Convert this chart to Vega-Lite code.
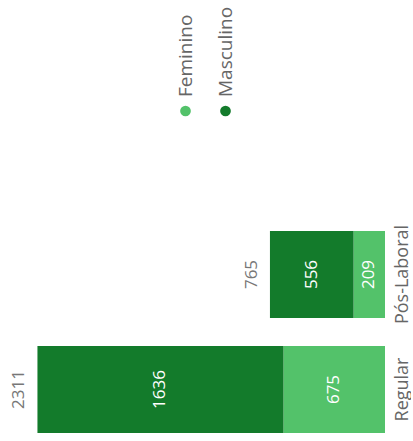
{
  "$schema": "https://vega.github.io/schema/vega-lite/v6.json",
  "padding": 0,
  "spacing": 0,
  "center": true,
  "background": "white",
  "data": {
    "values": [
      {"curso": "Regular", "sexo": "Feminino", "value": 675},
      {"curso": "Regular", "sexo": "Masculino", "value": 1636},
      {"curso": "Pós-Laboral", "sexo": "Feminino", "value": 209},
      {"curso": "Pós-Laboral", "sexo": "Masculino", "value": 556}
    ]
  },
  "resolve": {"scale": {"x": "independent", "y": "independent"}},
  "vconcat": [
    {
      "width": 120,
      "height": 222,
      "data": {"values": [{"sexo": "Feminino"}, {"sexo": "Masculino"}]},
      "layer": [
        {
          "mark": {"type": "circle", "size": 115, "opacity": 1},
          "encoding": {
            "x": {"field": "sexo", "type": "nominal", "scale": {"type": "point", "padding": 1}, "axis": null},
            "color": {"field": "sexo", "type": "nominal", "legend": null}
          }
        },
        {
          "mark": {"type": "text", "angle": 270, "align": "left", "baseline": "middle", "dx": 14, "font": "Open Sans", "fontSize": 19, "color": "#666666"},
          "encoding": {
            "x": {"field": "sexo", "type": "nominal", "scale": {"type": "point", "padding": 1}, "axis": null},
            "text": {"field": "sexo", "type": "nominal"}
          }
        }
      ]
    },
    {
      "width": 385,
      "height": 220,
      "encoding": {
        "y": {
          "field": "curso",
          "type": "nominal",
          "sort": ["Pós-Laboral", "Regular"],
          "scale": {"paddingInner": 0.243, "paddingOuter": 0.078},
          "axis": {
            "orient": "right",
            "title": null,
            "domain": false,
            "ticks": false,
            "labelAngle": 270,
            "labelAlign": "center",
            "labelBaseline": "top",
            "labelPadding": 8,
            "labelFont": "Open Sans",
            "labelFontSize": 18,
            "labelColor": "#666666"
          }
        }
      },
      "layer": [
        {
          "mark": {"type": "bar"},
          "encoding": {
            "x": {"field": "value", "type": "quantitative", "stack": "zero", "scale": {"domain": [0, 2560], "reverse": true, "nice": false}, "axis": null},
            "color": {
              "field": "sexo",
              "type": "nominal",
              "scale": {"domain": ["Feminino", "Masculino"], "range": ["#53C26A", "#137B2B"]},
              "legend": null
            }
          }
        },
        {
          "mark": {"type": "text", "angle": 270, "align": "center", "baseline": "middle", "font": "Open Sans", "fontSize": 17, "color": "white"},
          "encoding": {
            "x": {"field": "value", "type": "quantitative", "stack": "zero", "bandPosition": 0.5, "scale": {"domain": [0, 2560], "reverse": true, "nice": false}, "axis": null},
            "detail": {"field": "sexo", "type": "nominal"},
            "text": {"field": "value", "type": "quantitative"}
          }
        },
        {
          "mark": {"type": "text", "angle": 270, "align": "center", "baseline": "middle", "dy": -18, "font": "Open Sans", "fontSize": 17, "color": "#777777"},
          "encoding": {
            "x": {"aggregate": "sum", "field": "value", "type": "quantitative", "stack": null, "scale": {"domain": [0, 2560], "reverse": true, "nice": false}, "axis": null},
            "text": {"aggregate": "sum", "field": "value", "type": "quantitative"}
          }
        }
      ]
    }
  ],
  "config": {"view": {"stroke": null}}
}
